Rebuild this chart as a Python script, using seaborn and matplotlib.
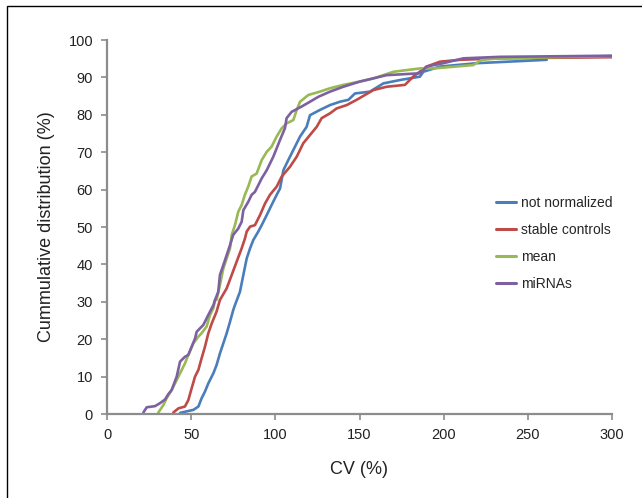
import matplotlib
matplotlib.use("Agg")
import matplotlib.pyplot as plt
import seaborn as sns
import pandas as pd
from matplotlib.patches import Rectangle

# CV (%) vs cumulative distribution (%)
blue_x = [43.4, 51.3, 54.3, 56.2, 58.2, 60.2, 63.2, 65.1, 67.1, 69.1, 71.1, 73.1, 75.0, 76.0,
          79.0, 81.0, 83.0, 85.0, 86.9, 89.9, 91.9, 94.9, 97.8, 100.8, 102.8,
          104.8, 107.7, 110.7, 114.7, 118.6, 120.6, 126.5, 132.5, 138.4, 143.4, 147.3,
          156.2, 164.2, 174.1, 185.9, 187.9, 197.8, 219.6, 261.2]
blue_y = [0.3, 1.1, 2.0, 4.2, 6.0, 8.2, 10.9, 13.1, 16.2, 18.9, 21.6, 24.7, 27.8, 29.1,
          32.7, 37.2, 41.6, 44.3, 46.5, 48.8, 50.5, 53.2, 55.9, 58.6, 60.3,
          65.2, 67.9, 70.6, 74.2, 76.8, 79.9, 81.3, 82.6, 83.5, 84.0, 85.7,
          86.2, 88.4, 89.3, 90.2, 91.5, 92.9, 93.8, 94.7]

red_x = [39.4, 42.4, 46.3, 48.3, 50.3, 52.3, 54.3, 56.2, 58.2, 60.2, 62.2, 65.1, 67.1,
         71.1, 74.1, 77.0, 80.0, 82.0, 83.0, 85.0, 87.9, 90.9, 93.9, 96.8, 100.8,
         103.8, 108.7, 112.7, 116.6, 120.6, 124.6, 127.5, 132.5, 136.4, 142.4, 148.3,
         158.2, 166.1, 177.0, 181.9, 189.9, 197.8, 209.7, 233.5, 300]
red_y = [0.4, 1.5, 2.0, 3.7, 6.9, 10.0, 11.8, 14.9, 18.0, 21.6, 24.2, 27.4, 30.5,
         33.6, 37.2, 40.7, 44.3, 47.0, 48.8, 50.1, 50.5, 53.2, 56.3, 58.6, 60.8,
         63.5, 66.1, 68.8, 72.4, 74.6, 76.8, 79.1, 80.4, 81.7, 82.6, 84.0,
         86.6, 87.5, 88.0, 90.2, 92.9, 94.2, 94.7, 95.1, 95.4]

green_x = [30.5, 33.5, 35.4, 38.4, 41.4, 44.4, 46.3, 48.3, 51.3, 54.3, 56.2, 59.2, 61.2, 63.2,
           64.2, 65.1, 67.1, 69.1, 71.1, 73.1, 74.1, 76.0, 78.0, 80.0, 81.9, 83.9,
           85.9, 88.9, 91.9, 94.9, 97.8, 100.8, 103.8, 106.7, 110.7, 112.7, 114.7, 119.6,
           126.5, 132.5, 140.4, 150.3, 158.2, 170.1, 185.9, 193.9, 217.6, 222.6, 233.5, 300]
green_y = [0.4, 2.4, 4.2, 6.4, 9.1, 11.8, 13.5, 15.8, 18.9, 20.7, 21.6, 23.4, 26.5, 28.3,
           30.5, 30.5, 34.5, 38.9, 41.6, 44.3, 47.9, 50.5, 54.1, 55.9, 58.6, 60.8,
           63.5, 64.3, 67.9, 70.1, 71.5, 74.2, 76.4, 77.7, 78.6, 81.3, 83.5, 85.3,
           86.2, 87.1, 88.0, 88.9, 89.7, 91.5, 92.4, 92.4, 93.3, 94.7, 95.1, 95.7]

purple_x = [21.6, 23.6, 28.5, 31.5, 34.5, 36.4, 38.4, 41.4, 43.4, 46.3, 48.3, 50.3, 52.3, 53.3,
            57.2, 60.2, 63.2, 64.2, 66.1, 67.1, 69.1, 71.1, 73.1, 75.0, 78.0, 80.0, 81.0,
            84.0, 85.9, 87.9, 89.9, 91.9, 94.9, 98.8, 102.8, 105.7, 106.7, 109.7, 115.6,
            120.6, 125.5, 132.5, 140.4, 150.3, 166.1, 185.9, 189.9, 199.8, 211.7, 233.5, 300]
purple_y = [0.4, 1.8, 2.1, 2.9, 3.9, 5.3, 6.4, 10.0, 14.0, 15.3, 15.8, 18.0, 20.2, 22.0,
            23.8, 26.5, 29.1, 30.5, 32.7, 37.2, 39.8, 42.5, 45.2, 47.9, 49.6, 51.4, 54.5,
            56.8, 58.6, 59.4, 61.2, 63.0, 65.2, 68.8, 73.3, 76.4, 79.1, 80.8, 82.2,
            83.5, 84.8, 86.2, 87.5, 88.9, 90.6, 91.1, 92.9, 93.8, 95.1, 95.5, 95.8]

series = ["not normalized", "stable controls", "mean", "miRNAs"]
colors = ["#4A7EBB", "#BE4B48", "#98B954", "#7D60A0"]

frames = []
for name, xs, ys in zip(series, [blue_x, red_x, green_x, purple_x], [blue_y, red_y, green_y, purple_y]):
    frames.append(pd.DataFrame({"cv": xs, "pct": ys, "method": name}))
df = pd.concat(frames, ignore_index=True)

sns.set_theme(style="white")
plt.rcParams["font.family"] = ["Liberation Sans", "DejaVu Sans"]

fig = plt.figure(figsize=(6.42, 4.98), dpi=100)
ax = fig.add_axes([107 / 642, 1 - 414 / 498, 505 / 642, 374 / 498])

sns.lineplot(data=df, x="cv", y="pct", hue="method", hue_order=series,
             palette=dict(zip(series, colors)), sort=False, estimator=None,
             linewidth=1.9, ax=ax)

ax.set_xlim(0, 300)
ax.set_ylim(0, 100)
ax.set_xticks(range(0, 301, 50))
ax.set_yticks(range(0, 101, 10))
for s in ["top", "right"]:
    ax.spines[s].set_visible(False)
for s in ["left", "bottom"]:
    ax.spines[s].set_color("#8c8c8c")
    ax.spines[s].set_linewidth(1.6)
ax.tick_params(axis="both", direction="out", length=4, width=1.2, color="#8c8c8c",
               labelsize=10.5, labelcolor="#222222", pad=6, left=True, bottom=True)
ax.set_xlabel("CV (%)", fontsize=13, color="#222222", labelpad=14)
ax.set_ylabel("Cummulative distribution (%)", fontsize=13, color="#222222", labelpad=10)

leg = ax.legend(loc="upper left", bbox_to_anchor=(490 / 642, 1 - 190 / 498),
                bbox_transform=fig.transFigure, frameon=False, fontsize=10,
                handlelength=1.5, handletextpad=0.3, labelspacing=0.95, borderaxespad=0)
for line in leg.get_lines():
    line.set_linewidth(2.2)

# outer frame (cropped on right and bottom)
fig.patches.append(Rectangle((7 / 642, -0.1), 1.2, 1.1 - 6 / 498, transform=fig.transFigure,
                             fill=False, edgecolor="black", linewidth=1.0, clip_on=False))

fig.savefig("out.png", dpi=100)
